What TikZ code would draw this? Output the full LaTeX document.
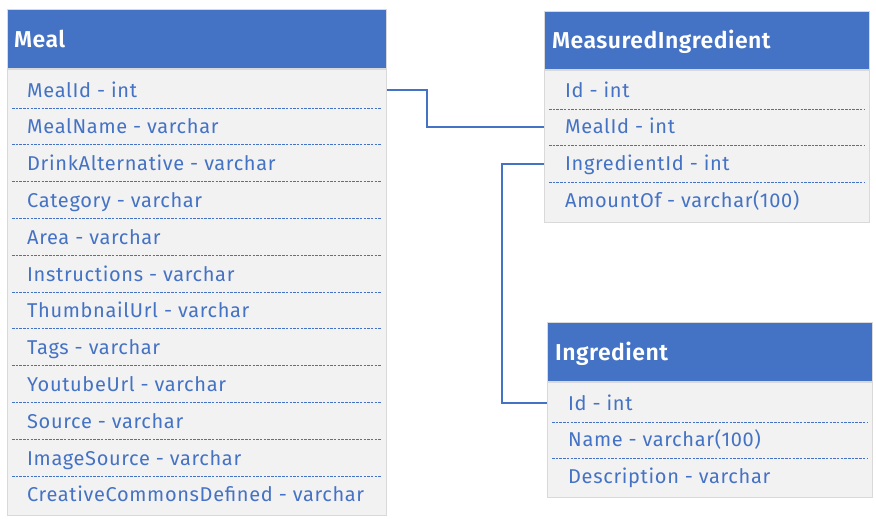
\documentclass[tikz,border=0pt]{standalone}
\usepackage{fontspec}
\setmainfont{Fira Sans}
\newfontfamily\fieldfont{Fira Sans}[LetterSpace=3.3]
\newfontfamily\titlefont{Fira Sans}[UprightFont={* SemiBold},LetterSpace=2]
\definecolor{hdr}{HTML}{4472C4}
\definecolor{bodyfill}{HTML}{F2F2F2}
\definecolor{bodyline}{HTML}{D9D9D9}
\begin{document}
\begin{tikzpicture}[x=1pt,y=-1pt,
  hdrbox/.style={fill=hdr,draw=bodyline,line width=0.8pt,inner sep=0,anchor=south west},
  bodybox/.style={fill=bodyfill,draw=bodyline,line width=0.8pt,inner sep=0,anchor=north west},
  title/.style={anchor=base west,text=white,font=\titlefont\fontsize{23}{23}\selectfont,inner sep=0},
  field/.style={anchor=base west,text=hdr,font=\fieldfont\fontsize{20}{20}\selectfont,inner sep=0},
  sep/.style={draw=hdr,dash pattern=on 2.5pt off 1.2pt,line width=1pt},
  link/.style={draw=hdr,line width=1.4pt}]
\useasboundingbox (0,0) rectangle (876,522);

% ---------- Meal ----------
\node[bodybox,minimum width=379pt,minimum height=446pt] (meal) at (7,69) {};
\node[hdrbox,minimum width=379pt,minimum height=59pt] (mealh) at (7,69) {};
\node[title] (mealt) at (14,47) {Meal};
\foreach \t [count=\i] in {MealId - int,MealName - varchar,DrinkAlternative - varchar,Category - varchar,Area - varchar,Instructions - varchar,ThumbnailUrl - varchar,Tags - varchar,YoutubeUrl - varchar,Source - varchar,ImageSource - varchar,CreativeCommonsDefined - varchar}{
  \node[field] (meal\i) at (27,{97+36.8*(\i-1)}) {\t};
}
\foreach \i in {1,...,11}{
  \draw[sep] (12,{108+36.8*(\i-1)}) -- (381,{108+36.8*(\i-1)});
}

% ---------- MeasuredIngredient ----------
\node[bodybox,minimum width=325pt,minimum height=152pt] (mi) at (544,70) {};
\node[hdrbox,minimum width=325pt,minimum height=58pt] (mih) at (544,70) {};
\node[title] (mit) at (552,48) {MeasuredIngredient};
\foreach \t [count=\i] in {Id - int,MealId - int,IngredientId - int,AmountOf - varchar(100)}{
  \node[field] (mi\i) at (565,{97+36.8*(\i-1)}) {\t};
}
\foreach \i in {1,...,3}{
  \draw[sep] (549,{109+36.8*(\i-1)}) -- (864,{109+36.8*(\i-1)});
}

% ---------- Ingredient ----------
\node[bodybox,minimum width=325pt,minimum height=115pt] (ing) at (547,382) {};
\node[hdrbox,minimum width=325pt,minimum height=59pt] (ingh) at (547,382) {};
\node[title] (ingt) at (555,360) {Ingredient};
\foreach \t [count=\i] in {Id - int,Name - varchar(100),Description - varchar}{
  \node[field] (ing\i) at (568,{410+36.8*(\i-1)}) {\t};
}
\foreach \i in {1,2}{
  \draw[sep] (552,{422+36.8*(\i-1)}) -- (867,{422+36.8*(\i-1)});
}

% ---------- Connectors ----------
\coordinate (j1) at (427,90);
\coordinate (j2) at (427,127);
\coordinate (k1) at (502,164);
\coordinate (k2) at (502,403);
\draw[link] (meal.east |- j1) -- (j1) -- (j2) -- (mi.west |- j2);
\draw[link] (mi.west |- k1) -- (k1) -- (k2) -- (ing.west |- k2);
\end{tikzpicture}
\end{document}
